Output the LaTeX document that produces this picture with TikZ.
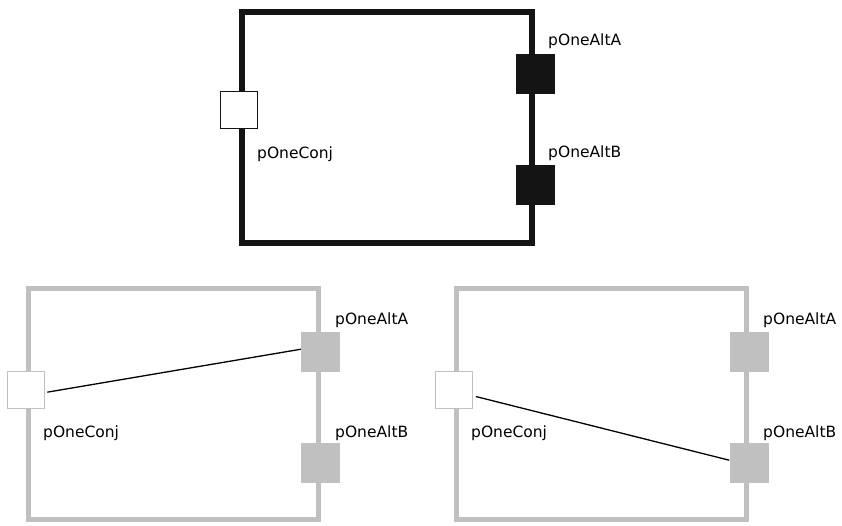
\documentclass[tikz,border=0pt]{standalone}
\usepackage{fontspec}
\setmainfont{DejaVu Sans}
\usetikzlibrary{positioning}
\definecolor{inkblack}{HTML}{141414}
\definecolor{faded}{HTML}{C0C0C0}
\tikzstyle{capsule} = [draw, rectangle, minimum width=290pt, minimum height=231pt, inner sep=0pt]
\tikzstyle{conjport} = [draw, fill=white, line width=0.8pt, minimum width=37pt, minimum height=37pt, inner sep=0pt]
\tikzstyle{altport} = [minimum width=39pt, minimum height=40pt, inner sep=0pt]
\tikzstyle{portlabel} = [anchor=base west, inner sep=0pt, font=\fontsize{15.5}{18}\selectfont]
\tikzstyle{binding} = [line width=1.3pt, black]

\begin{document}
\begin{tikzpicture}[x=1pt, y=-1pt]
    \useasboundingbox (0,0) rectangle (842,526);

    % Top capsule (active)
    \node[capsule, line width=6pt, draw=inkblack] (top) at (387,127.5) {};
    \node[conjport, draw=inkblack] (c0) at (top.west |- 0,110) {};
    \node[altport, fill=inkblack] (a0) at (top.east |- 0,74) {};
    \node[altport, fill=inkblack] (b0) at (top.east |- 0,185) {};
    \node[portlabel] (lc0) at (257,159) {pOneConj};
    \node[portlabel] (la0) at (548,46) {pOneAltA};
    \node[portlabel] (lb0) at (548,158) {pOneAltB};

    % Bottom left capsule (bound to A)
    \node[capsule, line width=5pt, draw=faded] (left) at (173,403.5) {};
    \node[conjport, draw=faded] (c1) at (left.west |- 0,390) {};
    \node[altport, fill=faded] (a1) at (left.east |- 0,352) {};
    \node[altport, fill=faded] (b1) at (left.east |- 0,463) {};
    \node[portlabel] (lc1) at (43,437) {pOneConj};
    \node[portlabel] (la1) at (335,324) {pOneAltA};
    \node[portlabel] (lb1) at (335,437) {pOneAltB};
    \draw[binding, shorten <=3pt] (c1.-8) -- (a1.172);

    % Bottom right capsule (bound to B)
    \node[capsule, line width=5pt, draw=faded] (right) at (601.5,403.5) {};
    \node[conjport, draw=faded] (c2) at (right.west |- 0,390) {};
    \node[altport, fill=faded] (a2) at (right.east |- 0,352) {};
    \node[altport, fill=faded] (b2) at (right.east |- 0,463) {};
    \node[portlabel] (lc2) at (471,437) {pOneConj};
    \node[portlabel] (la2) at (763,324) {pOneAltA};
    \node[portlabel] (lb2) at (763,437) {pOneAltB};
    \draw[binding, shorten <=3pt] (c2.-17) -- (b2.172);

\end{tikzpicture}
\end{document}
